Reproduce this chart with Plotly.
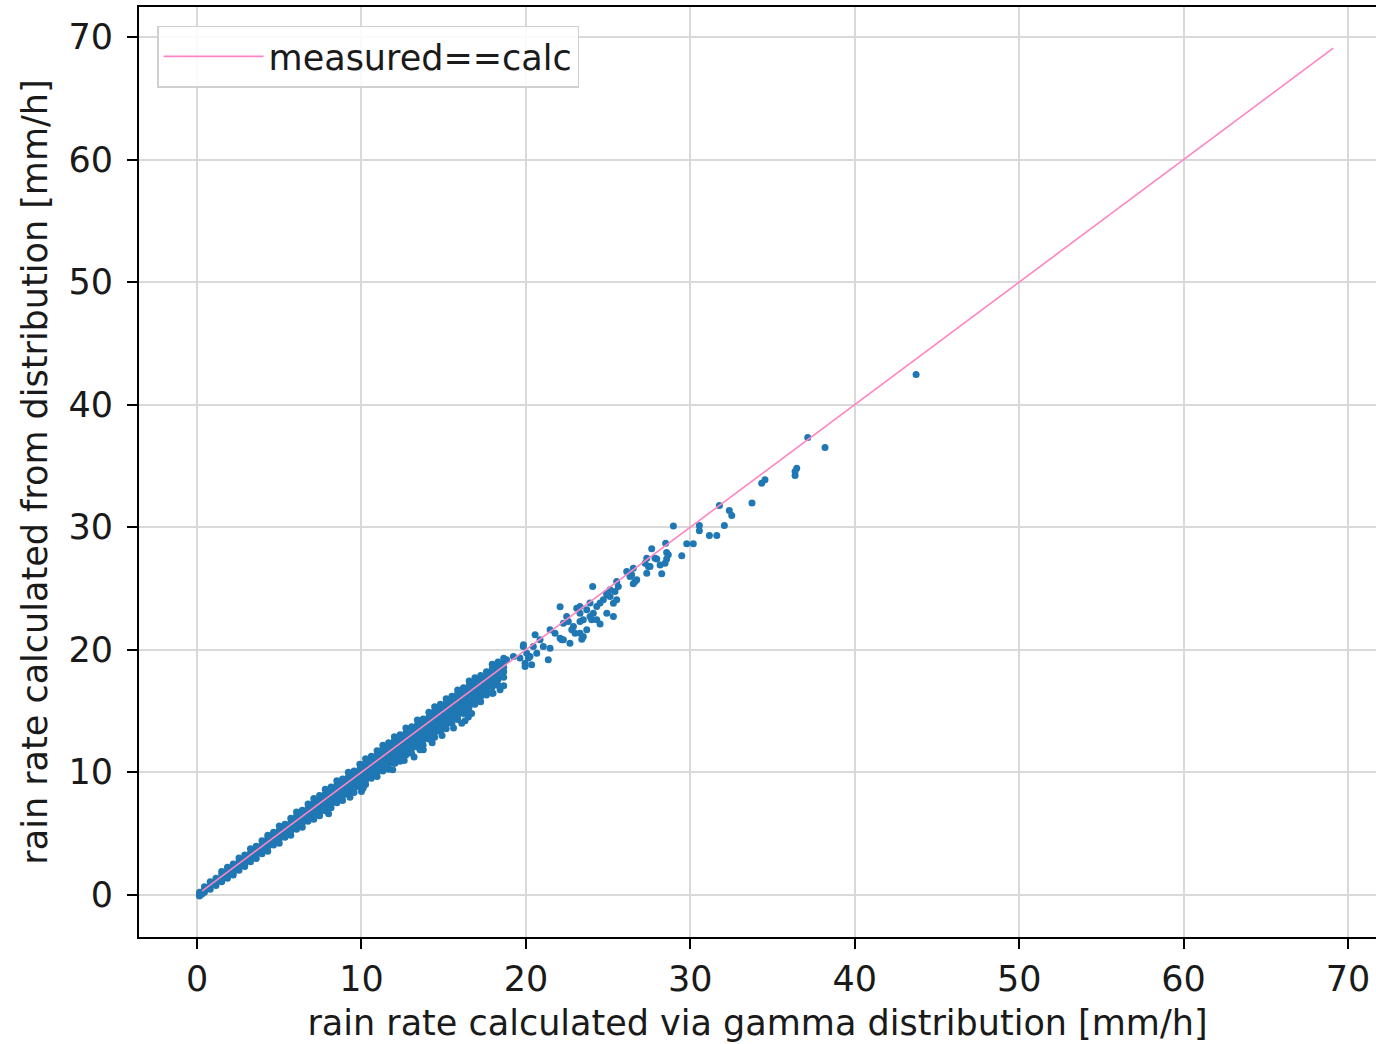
import plotly.graph_objects as go

# ---------------- data ----------------
# dense band near the origin
band_a_x = [0.15, 0.15, 0.15, 0.3, 0.45, 0.45, 0.45, 0.8, 0.8, 0.8, 1.15, 1.15, 1.15, 1.5, 1.5, 1.5, 1.5]
band_a_y = [0.0, 0.2, -0.1, 0.05, 0.2, 0.45, 0.65, 0.45, 0.75, 1.05, 0.75, 1.05, 1.35, 1.05, 1.35, 1.65, 1.9]

band_b_x = [1.85, 1.85, 1.85, 1.85, 2.2, 2.2, 2.2, 2.2, 2.55, 2.55, 2.55, 2.55,
            2.9, 2.9, 2.9, 2.9, 3.25, 3.25, 3.25, 3.25, 3.6, 3.6, 3.6, 3.6,
            3.95, 3.95, 3.95, 3.95]
band_b_y = [1.35, 1.65, 1.95, 2.25, 1.6, 1.8, 2.15, 2.5, 2.0, 2.35, 2.7, 3.0,
            2.3, 2.55, 2.9, 3.25, 2.7, 3.05, 3.4, 3.75, 2.95, 3.25, 3.6, 3.95,
            3.35, 3.7, 4.05, 4.4]

band_c_x = [4.3, 4.3, 4.3, 4.3, 4.3, 4.65, 4.65, 4.65, 4.65,
            5.0, 5.0, 5.0, 5.0, 5.0, 5.35, 5.35, 5.35, 5.35,
            5.7, 5.7, 5.7, 5.7, 5.7, 6.05, 6.05, 6.05, 6.05, 6.05,
            6.4, 6.4, 6.4, 6.4, 6.4, 6.75, 6.75, 6.75, 6.75, 6.75]
band_c_y = [3.55, 3.9, 4.25, 4.6, 4.85, 4.05, 4.4, 4.75, 5.1,
            4.2, 4.55, 4.9, 5.25, 5.6, 4.7, 5.05, 5.4, 5.75,
            4.85, 5.2, 5.55, 5.9, 6.25, 5.35, 5.7, 6.05, 6.4, 6.75,
            5.5, 5.85, 6.2, 6.55, 6.9, 6.0, 6.35, 6.7, 7.05, 7.4]

band_d_x = [7.1, 7.1, 7.1, 7.1, 7.1, 7.1,
            7.45, 7.45, 7.45, 7.45, 7.45, 7.45,
            7.8, 7.8, 7.8, 7.8, 7.8, 7.8,
            8.15, 8.15, 8.15, 8.15, 8.15, 8.15,
            8.5, 8.5, 8.5, 8.5, 8.5, 8.5,
            8.85, 8.85, 8.85, 8.85, 8.85, 8.85,
            9.2, 9.2, 9.2, 9.2, 9.2, 9.2,
            9.55, 9.55, 9.55, 9.55, 9.55, 9.55,
            9.9, 9.9, 9.9, 9.9, 9.9, 9.9,
            10.25, 10.25, 10.25, 10.25, 10.25, 10.25, 10.25,
            10.6, 10.6, 10.6, 10.6, 10.6, 10.6,
            10.95, 10.95, 10.95, 10.95, 10.95, 10.95, 10.95,
            10.0, 10.1, 9.3, 8.0]
band_d_y = [6.15, 6.5, 6.85, 7.2, 7.55, 7.85,
            6.45, 6.7, 7.05, 7.4, 7.75, 8.1,
            6.85, 7.2, 7.55, 7.9, 8.25, 8.6,
            7.1, 7.4, 7.75, 8.1, 8.45, 8.8,
            7.5, 7.9, 8.25, 8.6, 8.95, 9.3,
            7.7, 8.05, 8.4, 8.75, 9.1, 9.45,
            8.2, 8.55, 8.9, 9.25, 9.6, 10.0,
            8.35, 8.7, 9.05, 9.4, 9.75, 10.1,
            8.8, 9.2, 9.55, 9.9, 10.25, 10.65,
            9.0, 9.35, 9.7, 10.05, 10.4, 10.75, 11.1,
            9.5, 9.85, 10.2, 10.55, 10.9, 11.3,
            9.65, 10.0, 10.35, 10.7, 11.05, 11.4, 11.75,
            8.43, 8.7, 7.95, 6.6]

band_e_x = [11.3, 11.3, 11.3, 11.3, 11.3, 11.3, 11.3,
            11.65, 11.65, 11.65, 11.65, 11.65, 11.65, 11.65,
            12.0, 12.0, 12.0, 12.0, 12.0, 12.0, 12.0,
            12.35, 12.35, 12.35, 12.35, 12.35, 12.35, 12.35,
            12.7, 12.7, 12.7, 12.7, 12.7, 12.7, 12.7,
            13.05, 13.05, 13.05, 13.05, 13.05, 13.05, 13.05,
            13.4, 13.4, 13.4, 13.4, 13.4, 13.4, 13.4,
            13.75, 13.75, 13.75, 13.75, 13.75, 13.75, 13.75,
            14.1, 14.1, 14.1, 14.1, 14.1, 14.1, 14.1,
            14.45, 14.45, 14.45, 14.45, 14.45, 14.45, 14.45, 14.45,
            14.8, 14.8, 14.8, 14.8, 14.8, 14.8, 14.8,
            15.15, 15.15, 15.15, 15.15, 15.15, 15.15, 15.15, 15.15,
            15.5, 15.5, 15.5, 15.5, 15.5, 15.5, 15.5,
            15.85, 15.85, 15.85, 15.85, 15.85, 15.85, 15.85, 15.85,
            11.9, 12.04, 12.6, 13.2, 13.76, 14.3, 14.9, 15.6, 13.06, 13.56]
band_e_y = [10.1, 10.5, 10.85, 11.2, 11.55, 11.9, 12.2,
            10.25, 10.65, 11.0, 11.35, 11.7, 12.05, 12.4,
            10.75, 11.15, 11.5, 11.85, 12.2, 12.55, 12.9,
            10.9, 11.3, 11.65, 12.0, 12.35, 12.7, 13.05,
            11.4, 11.8, 12.15, 12.5, 12.85, 13.2, 13.6,
            11.55, 11.95, 12.3, 12.65, 13.0, 13.35, 13.7,
            12.05, 12.45, 12.8, 13.15, 13.5, 13.85, 14.25,
            12.2, 12.6, 12.95, 13.3, 13.65, 14.0, 14.35,
            12.7, 13.1, 13.45, 13.8, 14.15, 14.5, 14.9,
            12.85, 13.25, 13.6, 13.95, 14.3, 14.65, 15.0, 15.35,
            13.35, 13.75, 14.1, 14.45, 14.8, 15.15, 15.55,
            13.55, 13.9, 14.25, 14.6, 14.95, 15.3, 15.65, 16.0,
            14.0, 14.4, 14.75, 15.1, 15.45, 15.8, 16.2,
            14.3, 14.65, 15.0, 15.35, 15.7, 16.05, 16.4, 16.7,
            10.2, 10.74, 10.95, 11.25, 11.83, 12.4, 13.0, 13.6, 12.38, 11.83]

band_f_x = [16.2, 16.2, 16.2, 16.2, 16.2, 16.2, 16.2,
            16.55, 16.55, 16.55, 16.55, 16.55, 16.55, 16.55, 16.55,
            16.9, 16.9, 16.9, 16.9, 16.9, 16.9, 16.9,
            17.25, 17.25, 17.25, 17.25, 17.25, 17.25, 17.25,
            17.6, 17.6, 17.6, 17.6, 17.6, 17.6,
            17.95, 17.95, 17.95, 17.95, 17.95, 17.95, 17.95,
            18.3, 18.3, 18.3, 18.3, 18.3, 18.3,
            18.65, 18.65, 18.65, 18.65, 18.65, 18.65,
            16.3, 16.5, 16.7, 18.43, 18.02, 17.03, 16.1, 18.0]
band_f_y = [14.8, 15.15, 15.5, 15.85, 16.2, 16.55, 16.9,
            14.95, 15.35, 15.7, 16.05, 16.4, 16.75, 17.1, 17.45,
            15.55, 15.9, 16.3, 16.65, 17.0, 17.35, 17.7,
            15.75, 16.15, 16.5, 16.85, 17.2, 17.55, 17.9,
            16.3, 16.7, 17.1, 17.45, 17.8, 18.2,
            16.45, 16.95, 17.35, 17.7, 18.05, 18.45, 18.8,
            17.1, 17.55, 17.95, 18.3, 18.65, 19.0,
            17.05, 17.75, 18.2, 18.55, 18.95, 19.3,
            14.2, 14.5, 14.8, 16.73, 17.27, 16.15, 14.0, 16.45]

# sparse points above ~19 mm/h
sparse_x = [43.73, 37.14, 38.19, 36.47, 36.37, 36.37, 34.54, 34.34, 33.75, 31.77,
            32.37, 32.52, 32.07, 30.55, 30.55, 31.16, 31.61, 28.97, 29.78, 30.18,
            29.48, 28.50, 27.65, 28.56, 28.66, 28.56, 28.46, 27.96, 28.16, 28.26,
            27.35, 27.45, 27.35, 26.53, 26.43, 26.74, 26.53, 26.13, 25.52, 25.62,
            25.42, 25.52, 24.06, 24.92, 25.12, 24.71, 24.51, 25.32, 24.51, 22.08,
            23.09, 23.29, 23.70, 23.49, 23.90, 24.31, 22.89, 23.29, 23.40, 22.79,
            22.48, 22.28, 22.58, 21.47, 21.77, 22.08, 22.18, 21.47, 20.56, 20.86,
            21.06, 20.45, 20.66, 19.84, 20.05, 19.64, 19.95, 20.25, 19.24, 18.83,
            19.85, 20.15, 20.35, 19.95, 21.36, 22.68, 23.49, 23.70, 22.99, 22.28,
            24.10, 24.00, 23.29, 24.92, 25.32, 27.85, 27.55, 27.25, 26.64, 26.33,
            25.12, 24.92, 24.31, 23.90, 23.29]
sparse_y = [42.45, 37.31, 36.49, 34.81, 34.54, 34.21, 33.86, 33.59, 31.96, 31.76,
            31.36, 30.95, 30.13, 30.13, 29.70, 29.31, 29.31, 30.10, 28.64, 28.64,
            27.66, 28.69, 28.23, 27.93, 27.74, 27.39, 27.06, 27.39, 26.92, 26.19,
            27.47, 26.78, 26.24, 26.65, 26.11, 25.70, 25.37, 26.37, 25.56, 25.15,
            24.75, 24.07, 25.15, 24.61, 24.33, 24.07, 23.80, 22.70, 22.10, 23.51,
            23.38, 22.98, 23.25, 22.44, 22.70, 22.44, 21.89, 21.34, 20.85, 21.62,
            22.70, 22.16, 22.30, 21.62, 21.34, 20.94, 20.80, 20.12, 21.21, 20.80,
            20.26, 20.26, 19.71, 20.26, 19.71, 19.31, 18.90, 19.44, 19.44, 19.17,
            20.40, 19.31, 18.77, 18.63, 19.17, 20.53, 21.07, 21.62, 21.34, 20.80,
            22.98, 22.44, 22.30, 22.98, 23.79, 27.47, 26.78, 27.06, 25.56, 25.97,
            24.88, 24.48, 23.52, 23.80, 23.52]

# reference line measured == calc
line_x = [0.3, 69.1]
line_y = [0.3, 69.1]

tick_vals = [0, 10, 20, 30, 40, 50, 60, 70]
x_title = "rain rate calculated via gamma distribution [mm/h]"
y_title = "rain rate calculated from distribution [mm/h]"
legend_label = "measured==calc"

# ---------------- figure ----------------
all_x = band_a_x + band_b_x + band_c_x + band_d_x + band_e_x + band_f_x + sparse_x
all_y = band_a_y + band_b_y + band_c_y + band_d_y + band_e_y + band_f_y + sparse_y

FONT = "DejaVu Sans"
FS = 35
TXT = "#1a1a1a"

fig = go.Figure()
fig.add_trace(go.Scatter(
    x=all_x, y=all_y, mode="markers", showlegend=False,
    marker=dict(color="#1f77b4", size=7, line=dict(width=0)),
))
fig.add_trace(go.Scatter(
    x=line_x, y=line_y, mode="lines", name=legend_label,
    line=dict(color="#ff85c2", width=1.6),
))

axis_common = dict(
    tickvals=tick_vals,
    showgrid=True, gridcolor="#d9d9d9", gridwidth=2,
    showline=True, linecolor="black", linewidth=2,
    ticks="outside", ticklen=10, tickwidth=2, tickcolor="black",
    zeroline=False,
    tickfont=dict(family=FONT, size=FS, color=TXT),
)

fig.update_xaxes(range=[-3.53, 71.70], mirror=True,
                 title=dict(text=x_title, standoff=12,
                            font=dict(family=FONT, size=FS, color=TXT)),
                 **axis_common)
fig.update_yaxes(range=[-3.45, 72.45], mirror=False, ticklabelstandoff=7,
                 title=dict(text=y_title, standoff=10,
                            font=dict(family=FONT, size=FS, color=TXT)),
                 **axis_common)

fig.update_layout(
    width=1376, height=1044,
    margin=dict(l=139, r=0, t=7, b=107),
    plot_bgcolor="white", paper_bgcolor="white",
    font=dict(family=FONT, size=FS, color=TXT),
    legend=dict(x=0.0146, y=0.98, xanchor="left", yanchor="top",
                bgcolor="rgba(255,255,255,0.85)", bordercolor="#d0d0d0", borderwidth=1.5,
                font=dict(family=FONT, size=FS, color=TXT),
                itemwidth=100),
)

fig.write_html("out.html")
